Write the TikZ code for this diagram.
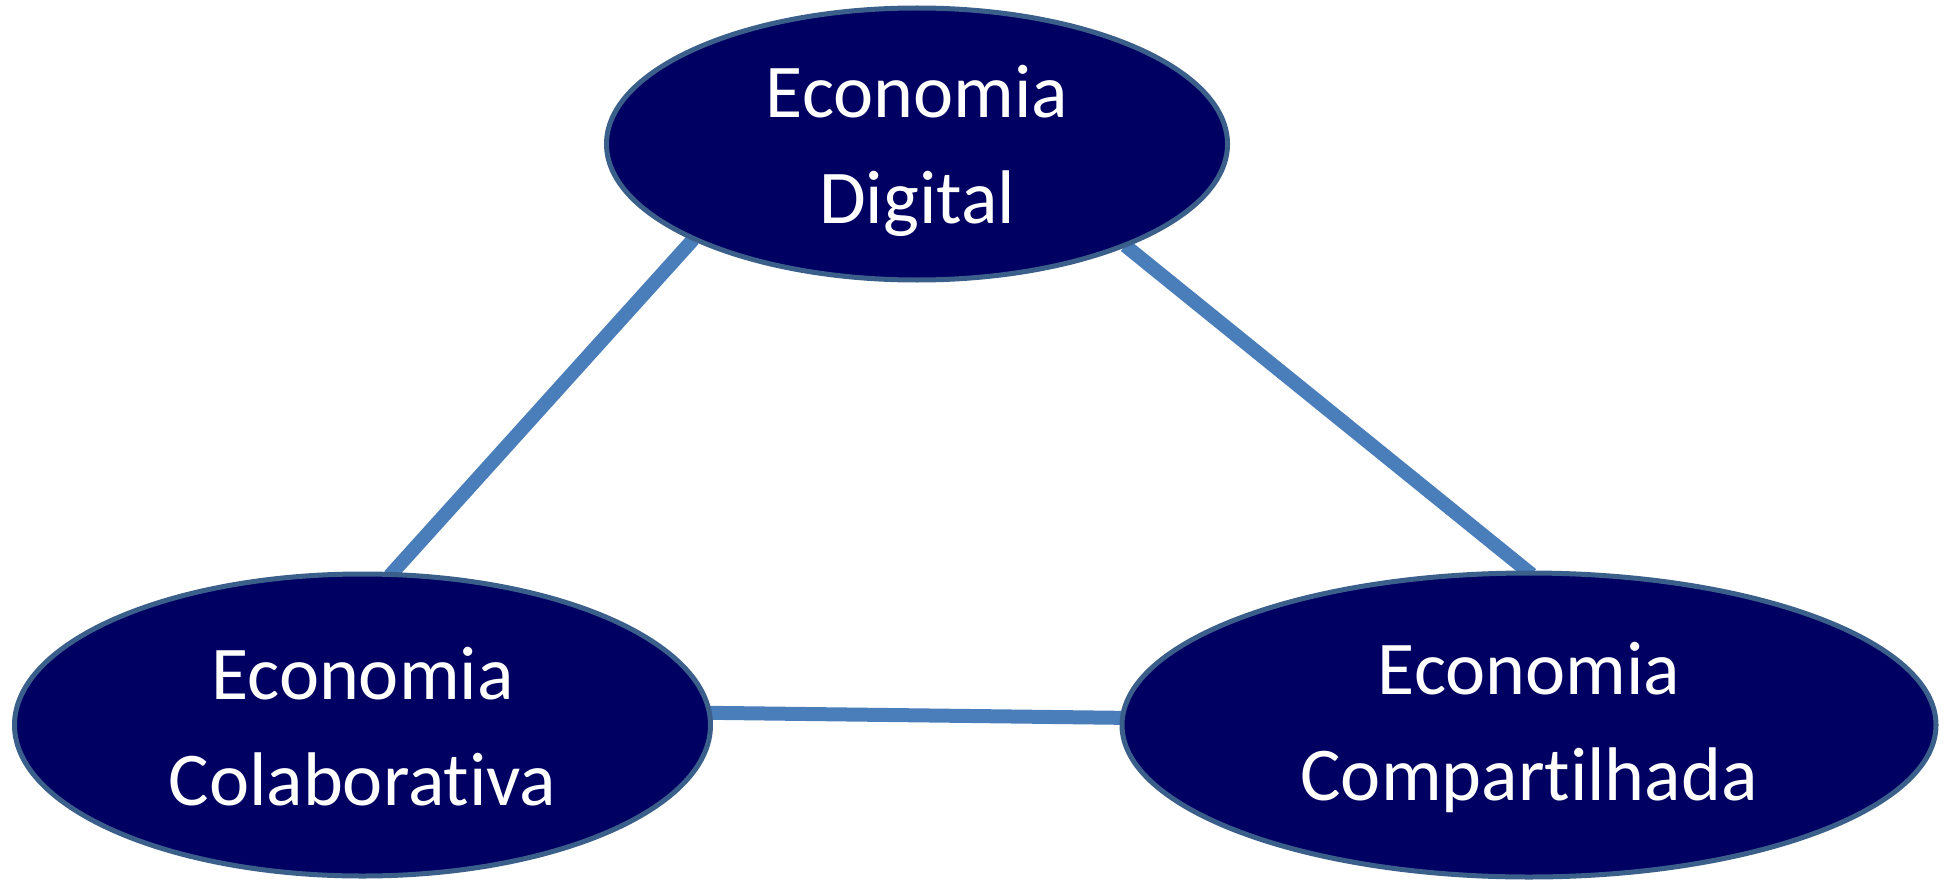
\documentclass[tikz,border=0pt]{standalone}
\usepackage{fontspec}
\setmainfont[Ligatures=NoCommon]{Carlito}
\usetikzlibrary{shapes.geometric}
\pgfdeclarelayer{background}
\pgfsetlayers{background,main}
\definecolor{navy}{HTML}{000062}
\definecolor{rim}{HTML}{3A5F8B}
\definecolor{linkblue}{HTML}{4A7EBB}
\begin{document}
\begin{tikzpicture}[x=1pt,y=-1pt,
  oval/.style={ellipse, draw=rim, line width=5pt, fill=navy, text=white, inner sep=0pt,
    align=center, font=\fontsize{76}{106}\selectfont},
  txt/.style={text=white, align=center, font=\fontsize{76}{106}\selectfont, inner sep=0pt},
  link/.style={draw=linkblue, line width=14pt}]
\useasboundingbox (0,0) rectangle (1946,880);
\node[oval, minimum width=621pt, minimum height=272pt] (dig) at (917,144) {};
\node[oval, minimum width=696pt, minimum height=302pt] (col) at (362.5,725) {};
\node[oval, minimum width=814pt, minimum height=304pt] (com) at (1529,725) {};
\node[txt] (digt) at ([yshift=-6.5pt]dig.center) {Economia\\Digital};
\node[txt] (colt) at ([yshift=-2pt]col.center) {Economia\\Colaborativa};
\node[txt] (comt) at ([yshift=-2pt]com.center) {Economia\\Compartilhada};
\begin{pgfonlayer}{background}
\draw[link] ([shift={(-3,-3)}]dig.204.4) -- ([shift={(0,4)}]col.80.5);
\draw[link] ([shift={(3,-3)}]dig.333.4) -- ([shift={(0,4)}]com.89.2);
\draw[link] ([shift={(-4,0)}]col.2.6) -- ([shift={(4,0)}]com.179.4);
\end{pgfonlayer}
\end{tikzpicture}
\end{document}
